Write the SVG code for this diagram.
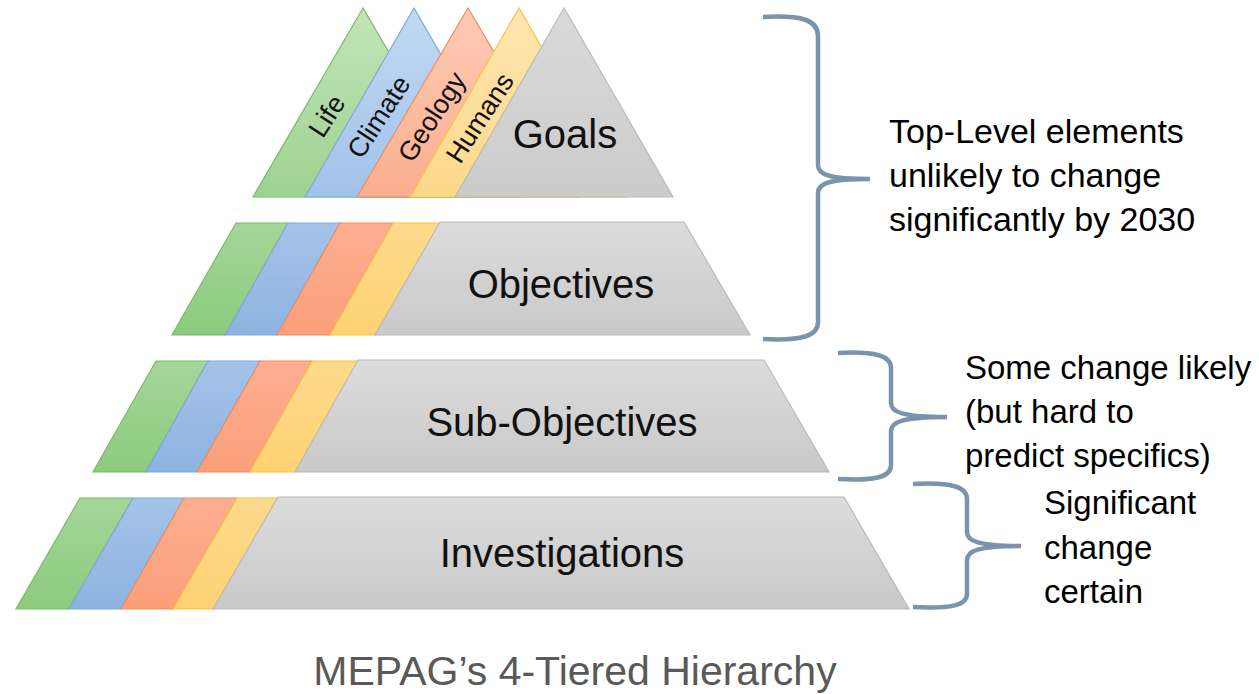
<svg xmlns="http://www.w3.org/2000/svg" width="1259" height="694" viewBox="0 0 1259 694">
<defs>
<linearGradient id="gG" x1="0" y1="0" x2="0" y2="1"><stop offset="0" stop-color="#a4d69a"/><stop offset="1" stop-color="#8bcb7d"/></linearGradient>
<linearGradient id="gB" x1="0" y1="0" x2="0" y2="1"><stop offset="0" stop-color="#a5c3e8"/><stop offset="1" stop-color="#8cb3e1"/></linearGradient>
<linearGradient id="gO" x1="0" y1="0" x2="0" y2="1"><stop offset="0" stop-color="#fcae91"/><stop offset="1" stop-color="#fb9f79"/></linearGradient>
<linearGradient id="gY" x1="0" y1="0" x2="0" y2="1"><stop offset="0" stop-color="#fdda8c"/><stop offset="1" stop-color="#fdd273"/></linearGradient>
<linearGradient id="gK" x1="0" y1="0" x2="0" y2="1"><stop offset="0" stop-color="#dcdcdc"/><stop offset="1" stop-color="#c9c9c9"/></linearGradient>
<linearGradient id="tG" x1="0" y1="0" x2="0" y2="1"><stop offset="0" stop-color="#c2e5b8"/><stop offset="1" stop-color="#9dd291"/></linearGradient>
<linearGradient id="tB" x1="0" y1="0" x2="0" y2="1"><stop offset="0" stop-color="#c3d9f2"/><stop offset="1" stop-color="#a0c2ea"/></linearGradient>
<linearGradient id="tO" x1="0" y1="0" x2="0" y2="1"><stop offset="0" stop-color="#fdcbb6"/><stop offset="1" stop-color="#fcae8e"/></linearGradient>
<linearGradient id="tY" x1="0" y1="0" x2="0" y2="1"><stop offset="0" stop-color="#fee6b0"/><stop offset="1" stop-color="#fdd88a"/></linearGradient>
<linearGradient id="tK" x1="0" y1="0" x2="0" y2="1"><stop offset="0" stop-color="#dadada"/><stop offset="1" stop-color="#cbcbcb"/></linearGradient>
</defs>
<style>
.g{stroke:#7bbb68;stroke-width:1.2}
.b{stroke:#7da9da;stroke-width:1.2}
.o{stroke:#f08c62;stroke-width:1.2}
.y{stroke:#f7c444;stroke-width:1.2}
.k{stroke:#bababa;stroke-width:1.2}
.lbl{font-family:"Liberation Sans",Arial,sans-serif;font-size:40px;fill:#111;text-anchor:middle}
.rot{font-family:"Liberation Sans",Arial,sans-serif;font-size:27px;fill:#111;text-anchor:middle}
.note{font-family:"Liberation Sans",Arial,sans-serif;font-size:33px;fill:#000}
.brace{fill:none;stroke:#7a94ae;stroke-width:4.5;stroke-linecap:butt}
.cap{font-family:"Liberation Sans",Arial,sans-serif;font-size:41px;fill:#595959;text-anchor:middle}
</style>

<g id="goals">
<polygon class="g" fill="url(#tG)" points="363,8 253,197 473,197"/>
<polygon class="b" fill="url(#tB)" points="414,8 305,197 523,197"/>
<polygon class="o" fill="url(#tO)" points="468,8 357,197 579,197"/>
<polygon class="y" fill="url(#tY)" points="519,8 410,197 628,197"/>
<polygon class="k" fill="url(#tK)" points="564,8 455,197 673,197"/>
<text class="rot" transform="translate(327,116) rotate(-57)" y="9">Life</text>
<text class="rot" transform="translate(379,117) rotate(-57)" y="9">Climate</text>
<text class="rot" transform="translate(432,117) rotate(-57)" y="9">Geology</text>
<text class="rot" transform="translate(480,118) rotate(-57)" y="9">Humans</text>
<text class="lbl" x="565" y="148">Goals</text>
</g>

<g id="objectives">
<polygon class="g" fill="url(#gG)" points="236,223 288,223 225,335 172,335"/>
<polygon class="b" fill="url(#gB)" points="288,223 340,223 277,335 225,335"/>
<polygon class="o" fill="url(#gO)" points="340,223 393,223 330,335 277,335"/>
<polygon class="y" fill="url(#gY)" points="393,223 440,223 375,335 330,335"/>
<polygon class="k" fill="url(#gK)" points="440,222 684,222 750,335 375,335"/>
<text class="lbl" x="561" y="298">Objectives</text>
</g>

<g id="subobjectives">
<polygon class="g" fill="url(#gG)" points="156,361 208,361 146,472 93,472"/>
<polygon class="b" fill="url(#gB)" points="208,361 260,361 197,472 146,472"/>
<polygon class="o" fill="url(#gO)" points="260,361 312,361 250,472 197,472"/>
<polygon class="y" fill="url(#gY)" points="312,361 358,361 295,472 250,472"/>
<polygon class="k" fill="url(#gK)" points="358,360 764,360 829,472 295,472"/>
<text class="lbl" x="562" y="436">Sub-Objectives</text>
</g>

<g id="investigations">
<polygon class="g" fill="url(#gG)" points="80,498 133,498 69,609 16,609"/>
<polygon class="b" fill="url(#gB)" points="133,498 184,498 121,609 69,609"/>
<polygon class="o" fill="url(#gO)" points="184,498 237,498 173,609 121,609"/>
<polygon class="y" fill="url(#gY)" points="237,498 278,498 213,609 173,609"/>
<polygon class="k" fill="url(#gK)" points="278,497 844,497 909,609 213,609"/>
<text class="lbl" x="562" y="567">Investigations</text>
</g>

<g id="connectors">
<path class="brace" d="M763,17 C802,15 818,20 818,36 L818,165 C818,175 830,179 870,179 C830,179 818,183 818,193 L818,322 C818,336 802,341 763,339"/>
<path class="brace" d="M838,353 C876,351 891,356 891,368 L891,403 C891,412 902,417 947,417 C902,417 891,422 891,431 L891,465 C891,477 876,481 838,479"/>
<path class="brace" d="M913,484 C952,482 967,487 967,499 L967,532 C967,541 978,546 1021,546 C978,546 967,551 967,560 L967,594 C967,605 952,609 913,607"/>
</g>

<g id="note-top">
<text class="note" x="889" y="143" style="font-size:34px">Top-Level elements</text>
<text class="note" x="889" y="187" style="font-size:34px">unlikely to change</text>
<text class="note" x="889" y="231" style="font-size:34px">significantly by 2030</text>
</g>
<g id="note-mid">
<text class="note" x="965" y="379">Some change likely</text>
<text class="note" x="965" y="423">(but hard to</text>
<text class="note" x="965" y="467">predict specifics)</text>
</g>
<g id="note-bottom">
<text class="note" x="1044" y="514">Significant</text>
<text class="note" x="1044" y="559">change</text>
<text class="note" x="1044" y="603">certain</text>
</g>

<text id="caption" class="cap" x="575" y="685">MEPAG’s 4-Tiered Hierarchy</text>
</svg>
